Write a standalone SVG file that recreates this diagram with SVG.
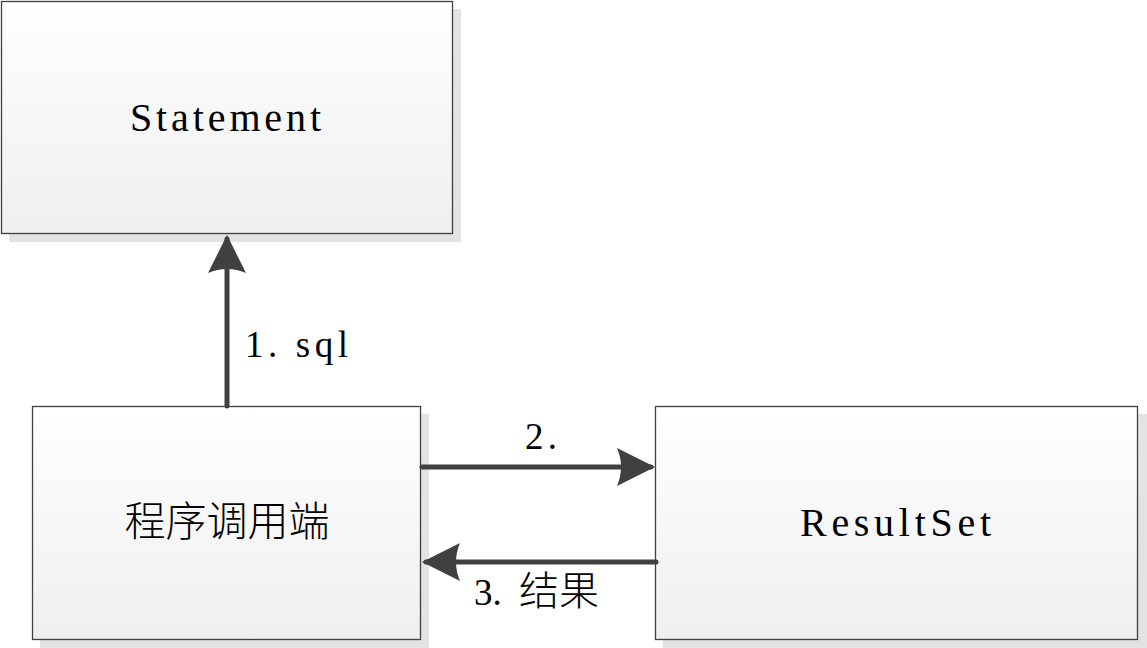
<svg xmlns="http://www.w3.org/2000/svg" width="1147" height="648" viewBox="0 0 1147 648">
<defs>
<linearGradient id="g" x1="0" y1="0" x2="0" y2="1">
<stop offset="0" stop-color="#ffffff"/>
<stop offset="1" stop-color="#efefef"/>
</linearGradient>
<marker id="ah" markerUnits="userSpaceOnUse" markerWidth="40" markerHeight="40" viewBox="0 0 40 40" refX="34" refY="20" orient="auto">
<path d="M38,20 L0,1 Q8,20 0,39 Z" fill="#404040"/>
</marker>
</defs>
<style>
.box{fill:url(#g);stroke:#404040;stroke-width:1.3}
.sh{fill:#e3e3e3}
.lbl{font-family:"Liberation Serif","Noto Sans CJK SC",serif;fill:#000}
.cn{font-family:"Noto Sans CJK SC","Liberation Serif",sans-serif;fill:#000;font-weight:300}
.con{stroke:#404040;stroke-width:5;fill:none;stroke-linecap:round}
</style>
<rect width="1147" height="648" fill="#ffffff"/>
<g id="node-statement">
<rect class="sh" x="9" y="9" width="452" height="233"/>
<rect class="box" x="1.5" y="1.5" width="451" height="232"/>
<text class="lbl" x="130" y="131" font-size="40" textLength="191" lengthAdjust="spacing">Statement</text>
</g>
<g id="node-client">
<rect class="sh" x="40" y="414" width="389" height="234"/>
<rect class="box" x="32.5" y="406.5" width="388" height="233"/>
<text class="cn" x="227" y="536" font-size="41" text-anchor="middle">程序调用端</text>
</g>
<g id="node-resultset">
<rect class="sh" x="663" y="414" width="484" height="234"/>
<rect class="box" x="655.5" y="406.5" width="482" height="233"/>
<text class="lbl" x="800" y="536" font-size="40" textLength="191" lengthAdjust="spacing">ResultSet</text>
</g>
<g id="connectors">
<line class="con" x1="227" y1="406" x2="227" y2="239" marker-end="url(#ah)"/>
<line class="con" x1="422" y1="467" x2="651" y2="467" marker-end="url(#ah)"/>
<line class="con" x1="656" y1="562" x2="426" y2="562" marker-end="url(#ah)"/>
<text class="lbl" x="245" y="357" font-size="37" textLength="103" lengthAdjust="spacing">1. sql</text>
<text class="lbl" x="525" y="449" font-size="37" textLength="32" lengthAdjust="spacing">2.</text>
<text class="lbl" x="474" y="605" font-size="37">3.</text>
<text class="cn" x="519" y="605" font-size="40">结果</text>
</g>
</svg>
